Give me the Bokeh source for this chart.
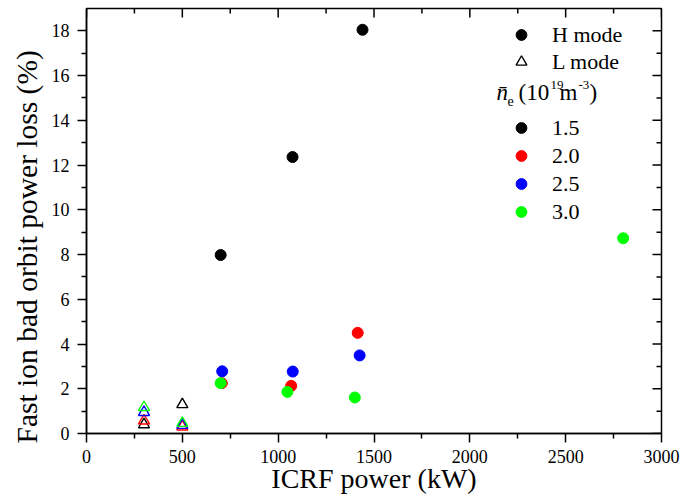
from bokeh.plotting import figure
from bokeh.models import Range1d, FixedTicker, Legend, LegendItem, Label
from bokeh.embed import file_html
from bokeh.resources import INLINE

# ---------------- data ----------------
densities = ["1.5", "2.0", "2.5", "3.0"]
colors = ["#000000", "#ff0000", "#0000ff", "#00ff00"]

# H mode (filled circles)
h_x_15 = [700, 1075, 1440]
h_y_15 = [7.98, 12.36, 18.05]
h_x_20 = [706, 1068, 1415]
h_y_20 = [2.25, 2.13, 4.5]
h_x_25 = [708, 1076, 1425]
h_y_25 = [2.78, 2.77, 3.49]
h_x_30 = [700, 1048, 1400, 2800]
h_y_30 = [2.25, 1.86, 1.61, 8.73]

# L mode (open triangles)
l_x_15 = [300, 500]
l_y_15 = [0.40, 1.30]
l_x_20 = [300, 500]
l_y_20 = [0.57, 0.30]
l_x_25 = [300, 500]
l_y_25 = [0.95, 0.37]
l_x_30 = [300, 500]
l_y_30 = [1.17, 0.46]

x_ticks = [0, 500, 1000, 1500, 2000, 2500, 3000]
x_minor = [250, 750, 1250, 1750, 2250, 2750]
y_ticks = [0, 2, 4, 6, 8, 10, 12, 14, 16, 18]
y_minor = [1, 3, 5, 7, 9, 11, 13, 15, 17]

x_title = "ICRF power (kW)"
y_title = "Fast ion bad orbit power loss (%)"

FONT = "Liberation Serif"
X0, X1 = 0, 3000
Y0, Y1 = 0, 19
FRAME_W, FRAME_H = 575, 425

p = figure(width=682, height=504, output_backend="svg", toolbar_location=None,
           x_range=Range1d(X0, X1), y_range=Range1d(Y0, Y1),
           min_border_left=86, min_border_right=21, min_border_top=8,
           min_border_bottom=71)
p.xgrid.visible = False
p.ygrid.visible = False
p.outline_line_color = "black"
p.outline_line_width = 1.5
p.background_fill_color = "white"
p.border_fill_color = "white"


def style_axis(ax, ticks, minor):
    ax.ticker = FixedTicker(ticks=ticks, minor_ticks=minor)
    ax.axis_line_color = "black"
    ax.axis_line_width = 1.5
    ax.major_tick_line_color = "black"
    ax.major_tick_line_width = 1.5
    ax.minor_tick_line_color = "black"
    ax.minor_tick_line_width = 1.5
    ax.major_tick_out = 9
    ax.major_tick_in = 0
    ax.minor_tick_out = 5
    ax.minor_tick_in = 0
    ax.major_label_text_font = FONT
    ax.major_label_text_color = "black"
    ax.major_label_text_font_size = "18px"
    ax.axis_label_text_font = FONT
    ax.axis_label_text_font_style = "normal"
    ax.axis_label_text_color = "black"


style_axis(p.xaxis[0], x_ticks, x_minor)
style_axis(p.yaxis[0], y_ticks, y_minor)
p.xaxis[0].axis_label = x_title
p.xaxis[0].axis_label_text_font_size = "28px"
p.xaxis[0].major_label_standoff = 7
p.xaxis[0].axis_label_standoff = -3
# trailing no-break spaces push the rotated title slightly downward, as in the original
p.yaxis[0].axis_label = y_title + "\u00a0" * 7
p.yaxis[0].axis_label_text_font_size = "29.5px"
p.yaxis[0].major_label_standoff = 8
p.yaxis[0].axis_label_standoff = 6

# inward mirror ticks on top and right edges (derived from tick arrays)
dy_major = 9 * (Y1 - Y0) / FRAME_H
dy_minor = 5 * (Y1 - Y0) / FRAME_H
dx_major = 9 * (X1 - X0) / FRAME_W
dx_minor = 5 * (X1 - X0) / FRAME_W
tick_kw = dict(line_color="black", line_width=1.5)
p.segment(x0=x_ticks, x1=x_ticks, y0=[Y1] * len(x_ticks),
          y1=[Y1 - dy_major] * len(x_ticks), **tick_kw)
p.segment(x0=x_minor, x1=x_minor, y0=[Y1] * len(x_minor),
          y1=[Y1 - dy_minor] * len(x_minor), **tick_kw)
p.segment(x0=[X1] * len(y_ticks), x1=[X1 - dx_major] * len(y_ticks),
          y0=y_ticks, y1=y_ticks, **tick_kw)
p.segment(x0=[X1] * len(y_minor), x1=[X1 - dx_minor] * len(y_minor),
          y0=y_minor, y1=y_minor, **tick_kw)

# ---------------- glyphs ----------------
h_sets = [(h_x_15, h_y_15), (h_x_20, h_y_20), (h_x_25, h_y_25), (h_x_30, h_y_30)]
l_sets = [(l_x_15, l_y_15), (l_x_20, l_y_20), (l_x_25, l_y_25), (l_x_30, l_y_30)]

l_renderers = []
for (xs, ys), c in zip(l_sets, colors):
    r = p.scatter(x=xs, y=ys, marker="triangle", size=11, fill_color=None,
                  line_color=c, line_width=1.4)
    l_renderers.append(r)

h_renderers = []
for (xs, ys), c in zip(h_sets, colors):
    r = p.scatter(x=xs, y=ys, marker="circle", size=11, fill_color=c,
                  line_color=c, line_width=1)
    h_renderers.append(r)


def make_legend(items, loc, spacing):
    lg = Legend(items=items, location=loc, orientation="vertical")
    lg.background_fill_alpha = 0
    lg.border_line_alpha = 0
    lg.padding = 0
    lg.margin = 0
    lg.spacing = spacing
    lg.glyph_width = 30
    lg.glyph_height = 27
    lg.label_height = 20
    lg.label_standoff = 16
    lg.label_text_font = FONT
    lg.label_text_font_size = "22px"
    lg.label_text_color = "black"
    lg.label_text_baseline = "middle"
    return lg


legend1 = make_legend([LegendItem(label="H mode", renderers=[h_renderers[0]]),
                       LegendItem(label="L mode", renderers=[l_renderers[0]])],
                      (420, 358), 0)
legend2 = make_legend([LegendItem(label=d, renderers=[r])
                       for d, r in zip(densities, h_renderers)],
                      (420, 208), 1)
p.add_layout(legend1, "center")
p.add_layout(legend2, "center")


# legend header: n_e (10^19 m^-3)
def px2x(px):
    return X0 + (px - 86) * (X1 - X0) / FRAME_W


def py2y(py):
    return Y0 + (433 - py) * (Y1 - Y0) / FRAME_H


base_y = py2y(92)
parts = [
    ("n\u0304", 496, 0, "23px", "italic"),
    ("e", 507, -8, "14px", "normal"),
    ("(10", 518, 0, "23px", "normal"),
    ("19", 550, 8, "13px", "normal"),
    ("m", 559, 0, "23px", "normal"),
    ("-3", 578, 8, "13px", "normal"),
    (")", 589, 0, "23px", "normal"),
]
for txt, px, dy, fs, st in parts:
    p.add_layout(Label(x=px2x(px), y=base_y, text=txt, y_offset=dy,
                       text_font=FONT, text_font_size=fs, text_font_style=st,
                       text_color="black", text_baseline="alphabetic",
                       text_align="left"))

open("out.html", "w").write(file_html(p, INLINE))
